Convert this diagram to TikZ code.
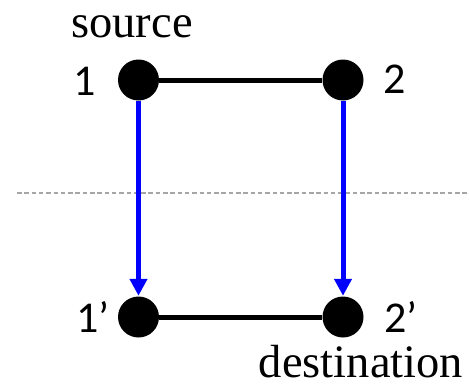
\documentclass[tikz,border=0pt]{standalone}
\usepackage{fontspec}
\setmainfont{Liberation Serif}
\newfontfamily\calfont{Carlito}
\usetikzlibrary{arrows.meta}
\begin{document}
\begin{tikzpicture}[x=1pt,y=-1pt,
  vtx/.style={circle,fill=black,inner sep=0pt,minimum size=41pt},
  num/.style={font=\calfont\fontsize{44}{44}\selectfont,anchor=base,inner sep=0pt},
  word/.style={font=\fontsize{46.5}{46.5}\selectfont,anchor=base,inner sep=0pt},
  edge/.style={line width=5pt,black},
  move/.style={line width=5pt,blue,-{Triangle[length=17pt,width=17pt]},shorten >=0.5pt},
  cut/.style={line width=1.2pt,gray!70,dash pattern=on 4.5pt off 2.8pt}]
\useasboundingbox (0,0) rectangle (469,391);
\node[vtx] (a) at (138.5,80) {};
\node[vtx] (b) at (343,80) {};
\node[vtx] (c) at (138.5,317) {};
\node[vtx] (d) at (343,317) {};
\coordinate (cl) at (17,193);
\coordinate (cr) at (467,193);
\draw[cut] (cl) -- (cr);
\draw[edge] (a) -- (b);
\draw[edge] (c) -- (d);
\draw[move] (a) -- (c);
\draw[move] (b) -- (d);
\node[num] (la) at (85,95) {1};
\node[num] (lb) at (395,93) {2};
\node[num] (lc) at (93,332) {1’};
\node[num] (ld) at (401,332) {2’};
\node[word] (src) at (132,37) {source};
\node[word] (dst) at (361,377) {destination};
\end{tikzpicture}
\end{document}
